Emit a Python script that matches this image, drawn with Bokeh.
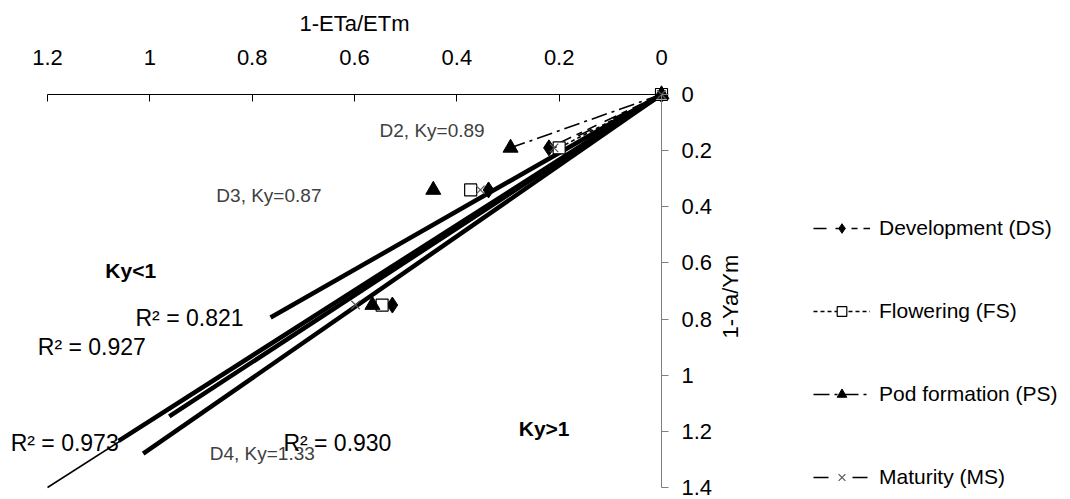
import math
from bokeh.plotting import figure
from bokeh.models import Range1d, LinearAxis, FixedTicker, Legend, LegendItem, Label
from bokeh.embed import file_html
from bokeh.resources import INLINE

# Relative evapotranspiration deficit (1-ETa/ETm) and relative yield
# decrease (1-Ya/Ym) for treatments D1..D4, per growth stage
ds_x = [0.0, 0.22, 0.338, 0.526]
ds_y = [0.0, 0.19, 0.34, 0.75]
fs_x = [0.0, 0.20, 0.373, 0.546]
fs_y = [0.0, 0.19, 0.34, 0.75]
ps_x = [0.0, 0.295, 0.446, 0.565]
ps_y = [0.0, 0.19, 0.34, 0.75]
ms_x = [0.0, 0.21, 0.354, 0.598]
ms_y = [0.0, 0.19, 0.34, 0.75]

stage_names = ["Development (DS)", "Flowering (FS)", "Pod formation (PS)", "Maturity (MS)"]

# Linear fits through the origin (slope = Ky) and the extent of each fitted line
trend_slope = [1.04, 1.163, 1.192, 1.263]
trend_xend = [0.764, 1.061, 0.962, 1.013]
# Thin guide line
guide_x = [0.0, 1.2]
guide_y = [0.0, 1.4]

x_ticks = [0, 0.2, 0.4, 0.6, 0.8, 1.0, 1.2]
x_tick_labels = ["0", "0.2", "0.4", "0.6", "0.8", "1", "1.2"]
y_ticks = [0, 0.2, 0.4, 0.6, 0.8, 1.0, 1.2, 1.4]
y_tick_labels = ["0", "0.2", "0.4", "0.6", "0.8", "1", "1.2", "1.4"]

FONT = "Liberation Sans"
W, H = 1070, 499

# The plotting frame covers the whole canvas; the axes sit at x=0 / y=0.
# Axis extents on the canvas (pixels): x 1.2 -> 47, 0 -> 661; y 0 -> 94, 1.4 -> 487
ax_left, ax_right, ax_top, ax_bottom = 47, 661, 94, 487
ppx = (ax_right - ax_left) / 1.2
ppy = (ax_bottom - ax_top) / 1.4
x_range = Range1d(1.2 + ax_left / ppx, -(W - ax_right) / ppx)
y_range = Range1d((H - ax_top) / ppy, -ax_top / ppy)

p = figure(frame_width=W, frame_height=H, x_range=x_range, y_range=y_range,
           x_axis_location=None, y_axis_location=None,
           toolbar_location=None, output_backend="svg",
           min_border=0)
p.grid.visible = False
p.outline_line_color = None
p.background_fill_color = "white"
p.border_fill_color = "white"

xa = LinearAxis(ticker=FixedTicker(ticks=x_ticks), fixed_location=0, bounds=(0, 1.2),
                major_label_overrides=dict(zip(x_ticks, x_tick_labels)),
                axis_label="1-ETa/ETm",
                major_tick_in=7, major_tick_out=0,
                minor_tick_line_color=None,
                major_label_standoff=30, axis_label_standoff=11,
                major_label_text_font=FONT, major_label_text_font_size="22px",
                major_label_text_color="black",
                axis_label_text_font=FONT, axis_label_text_font_size="22px",
                axis_label_text_font_style="normal", axis_label_text_color="black",
                axis_line_color="black", major_tick_line_color="black")
p.add_layout(xa, "above")

ya = LinearAxis(ticker=FixedTicker(ticks=y_ticks), fixed_location=0, bounds=(0, 1.4),
                major_label_overrides=dict(zip(y_ticks, y_tick_labels)),
                major_tick_in=0, major_tick_out=7,
                minor_tick_line_color=None,
                major_label_standoff=13,
                major_label_text_font=FONT, major_label_text_font_size="22px",
                major_label_text_color="black",
                axis_line_color="#7f7f7f", major_tick_line_color="#7f7f7f")
p.add_layout(ya, "right")

# fitted lines
for s, xe in zip(trend_slope, trend_xend):
    p.line([0.0, xe], [0.0, s * xe], line_color="black", line_width=4.5)
p.line(guide_x, guide_y, line_color="black", line_width=1.5)

# series: dashed segment to the first stressed treatment plus markers
series = [
    (ds_x, ds_y, "13 9 10 6 6 6",
     dict(marker="diamond", size=16, fill_color="black", line_color="black")),
    (fs_x, fs_y, "4 3",
     dict(marker="square", size=12, fill_color="white", line_color="black", line_width=1.2)),
    (ps_x, ps_y, "16 5 3 5",
     dict(marker="triangle", size=15, fill_color="black", line_color="black")),
    (ms_x, ms_y, "15 24",
     dict(marker="x", size=12, line_color="#555555", line_width=1.2)),
]
items = []
for (xs, ys, dash, mk), name in zip(series, stage_names):
    lr = p.line(xs[:2], ys[:2], line_color="black", line_width=1.6, line_dash=dash)
    sr = p.scatter(xs, ys, **mk)
    items.append(LegendItem(label=name, renderers=[lr, sr]))

legend = Legend(items=items, location=(813, 10), orientation="vertical",
                glyph_width=57, glyph_height=24, label_height=24, label_standoff=9,
                spacing=59, padding=0, margin=0,
                border_line_color=None, background_fill_alpha=0,
                label_text_font=FONT, label_text_font_size="21px",
                label_text_color="black")
p.add_layout(legend, "center")

# y axis title, reading bottom to top
p.add_layout(Label(x=-0.135, y=0.72, text="1-Ya/Ym", angle=math.pi / 2,
                   text_align="center", text_baseline="middle",
                   text_font=FONT, text_font_size="22px", text_color="black"))

def note(x, y, text, size, color="black", style="normal"):
    p.add_layout(Label(x=x, y=y, text=text, text_align="left", text_baseline="middle",
                       text_font=FONT, text_font_size=size, text_color=color,
                       text_font_style=style))

note(0.551, 0.128, "D2, Ky=0.89", "19px", "#404040")
note(0.870, 0.359, "D3, Ky=0.87", "19px", "#404040")
note(0.883, 1.278, "D4, Ky=1.33", "19px", "#404040")
note(1.087, 0.626, "Ky<1", "21px", style="bold")
note(0.279, 1.189, "Ky>1", "21px", style="bold")
note(1.028, 0.797, "R² = 0.821", "23px")
note(1.219, 0.900, "R² = 0.927", "23px")
note(1.272, 1.242, "R² = 0.973", "23px")
note(0.739, 1.242, "R² = 0.930", "23px")

open("out.html", "w").write(file_html(p, INLINE))
